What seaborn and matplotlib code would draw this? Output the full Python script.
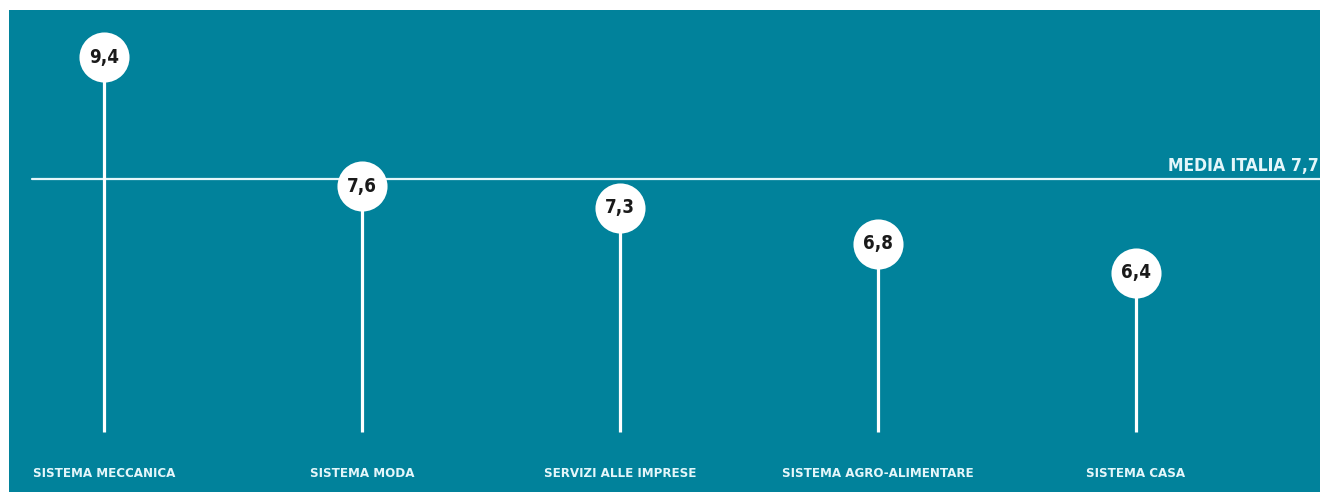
import matplotlib
matplotlib.use("Agg")
import matplotlib.pyplot as plt
import seaborn as sns
import pandas as pd

# data
categories = ["SISTEMA MECCANICA", "SISTEMA MODA", "SERVIZI ALLE IMPRESE",
              "SISTEMA AGRO-ALIMENTARE", "SISTEMA CASA"]
values = [9.4, 7.6, 7.3, 6.8, 6.4]
media_italia = 7.7

teal = "#01829b"
pale = "#e4f6fa"
narrow = ["DejaVu Sans Condensed", "Liberation Sans Narrow", "DejaVu Sans"]

df = pd.DataFrame({"settore": categories, "valore": values})

sns.set_style("white")
fig = plt.figure(figsize=(13.2, 4.92), dpi=100, facecolor="white")
ax = fig.add_axes([9 / 1320, 0, 1311 / 1320, 482 / 492])
ax.set_facecolor(teal)

# stems
base = 4.17
ax.vlines(range(len(categories)), base, df["valore"], color="white", lw=2.3, zorder=2)

# average line
ax.axhline(media_italia, xmin=0.0175, xmax=1, color=pale, lw=1.6, zorder=1)
ax.text(0.999, media_italia + 0.06, "MEDIA ITALIA 7,7", transform=ax.get_yaxis_transform(),
        ha="right", va="bottom", color=pale, fontsize=12.5, fontweight="bold",
        family=narrow, fontstretch="condensed")

# lollipop heads
sns.scatterplot(data=df, x="settore", y="valore", s=1300, color="white",
                edgecolor="white", linewidth=0, ax=ax, zorder=3, legend=False)

for i, v in enumerate(values):
    ax.text(i, v, f"{v:.1f}".replace(".", ","), ha="center", va="center",
            fontsize=13.5, fontweight="bold", color="#1a1a1a", family=narrow,
            fontstretch="condensed", zorder=4)
    ax.text(i, 0.039, categories[i], transform=ax.get_xaxis_transform(),
            ha="center", va="center", color=pale, fontsize=9.5, fontweight="bold",
            family=narrow, fontstretch="condensed")

ax.set_xlim(-0.368, 4.713)
ax.set_ylim(3.34, 10.06)
ax.set_xlabel("")
ax.set_ylabel("")
ax.set_xticks([])
ax.set_yticks([])
for s in ax.spines.values():
    s.set_visible(False)

fig.savefig("out.png", dpi=100, facecolor="white")
